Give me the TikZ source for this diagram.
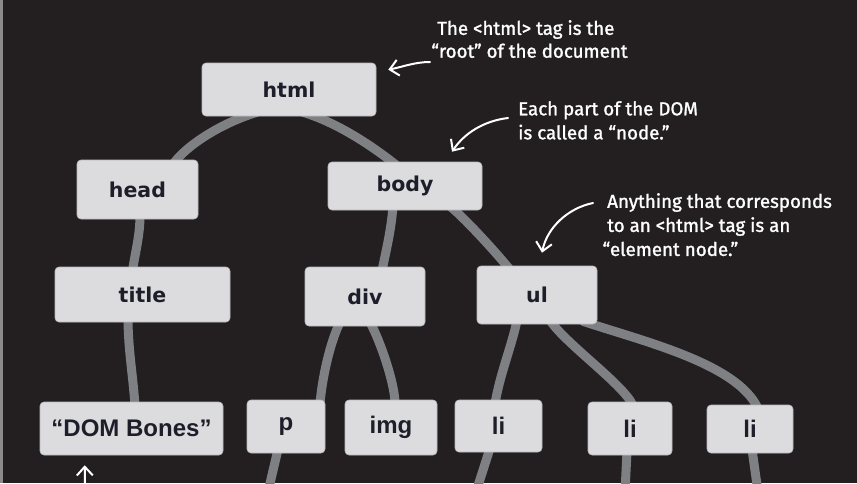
\documentclass[tikz,border=0pt]{standalone}
\usepackage{fontspec}
\newfontfamily\tagfont{DejaVu Sans}
\newfontfamily\leaffont{Liberation Sans}
\newfontfamily\handfont{Fira Sans}[FakeBold=1.4]
\usetikzlibrary{calc, backgrounds, arrows.meta}
\definecolor{board}{HTML}{231F20}
\definecolor{board_edge}{HTML}{8A8A8C}
\definecolor{box_fill}{HTML}{DCDCDF}
\definecolor{box_rim}{HTML}{B9B9BE}
\definecolor{branch_gray}{HTML}{7F8083}
\definecolor{tag_text}{HTML}{1E1E2A}

\begin{document}
\begin{tikzpicture}[
                        x=0.3mm, y=-0.3mm,
                        tag/.style={fill=box_fill, draw=box_rim, line width=0.5pt, rounded corners=1.2mm, inner sep=0pt, text=tag_text, font=\tagfont\bfseries\fontsize{17.5}{20}\selectfont},
                        leaf/.style={tag, font=\leaffont\bfseries\fontsize{20.5}{24}\selectfont},
                        branch/.style={draw=branch_gray, line width=2.7mm, line cap=round},
                        note/.style={text=white, align=left, inner sep=0pt, anchor=north west, font=\handfont\fontsize{16}{20.5}\selectfont},
                        note_arrow/.style={draw=white, line width=0.6mm, line cap=round, -{Straight Barb[length=2.6mm, width=4.8mm, line width=0.6mm]}},
                    ]
                        \useasboundingbox (0,0) rectangle (857,483);
                        \begin{pgfonlayer}{background}
                            \fill[board] (0,0) rectangle (857,483);
                            \draw[board_edge, line width=0.6mm] (1.5,0) -- (1.5,483);
                        \end{pgfonlayer}

                        %nodes
                        \node[tag, minimum width=52.2mm, minimum height=15.9mm] (html) at (289,89.5) {html};
                        \node[tag, minimum width=36.3mm, minimum height=17.7mm] (head) at (137.5,189.5) {head};
                        \node[tag, minimum width=46.2mm, minimum height=14.4mm] (body) at (405,186) {body};
                        \node[tag, minimum width=52.5mm, minimum height=16.5mm] (title) at (142.5,294.5) {title};
                        \node[tag, minimum width=36mm, minimum height=17.7mm] (div) at (365,296.5) {div};
                        \node[tag, minimum width=36mm, minimum height=17.4mm] (ul) at (537,295) {ul};
                        \node[leaf, minimum width=54.9mm, minimum height=15.9mm] (dom_bones) at (131.5,428.5) {“DOM Bones”};
                        \node[leaf, minimum width=23.4mm, minimum height=15.9mm] (p) at (286,426.5) {p};
                        \node[leaf, minimum width=27.6mm, minimum height=16.5mm] (img) at (391,427.5) {img};
                        \node[leaf, minimum width=26.1mm, minimum height=15.6mm] (li1) at (498.5,426) {li};
                        \node[leaf, minimum width=25.2mm, minimum height=15.9mm] (li2) at (630,428.5) {li};
                        \node[leaf, minimum width=25.8mm, minimum height=14.4mm] (li3) at (750,429) {li};

                        % branches running off the page
                        \coordinate (p_down) at (268,492);
                        \coordinate (li1_down) at (476,492);
                        \coordinate (li2_down) at (625,492);
                        \coordinate (li3_down) at (758,492);

                        % connections
                        \begin{pgfonlayer}{background}
                            \draw[branch] ($(html.south)+(-32,-4)$) .. controls +(-40,12) and +(10,-15) .. ($(head.north)+(36,4)$);
                            \draw[branch] ($(html.south)+(14,-4)$) .. controls +(40,12) and +(-15,-12) .. ($(body.north)+(-8,4)$);
                            \draw[branch] ($(head.south)+(2.5,-4)$) .. controls +(0,20) and +(3,-20) .. ($(title.north)+(-10,4)$);
                            \draw[branch] ($(body.south)+(-12,-4)$) .. controls +(-2,25) and +(4,-20) .. ($(div.north)+(17,4)$);
                            \draw[branch] ($(body.south)+(45,-4)$) .. controls +(15,12) and +(-12,-15) .. ($(ul.north)+(-27,4)$);
                            \draw[branch] ($(title.south)+(-14.5,-4)$) .. controls +(0,30) and +(-2,-30) .. ($(dom_bones.north)+(3.5,4)$);
                            \draw[branch] ($(div.south)+(-25,-4)$) .. controls +(-10,20) and +(2,-25) .. ($(p.north)+(34,4)$);
                            \draw[branch] ($(div.south)+(5,-4)$) .. controls +(10,18) and +(0,-20) .. ($(img.north)+(4,4)$);
                            \draw[branch] ($(ul.south)+(-20,-4)$) .. controls +(-5,25) and +(5,-30) .. ($(li1.north)+(-3.5,4)$);
                            \draw[branch] ($(ul.south)+(13,-4)$) .. controls +(15,23) and +(-8,-20) .. ($(li2.north)+(3,4)$);
                            \draw[branch] ($(ul.south)+(46,-3)$) .. controls +(60,20) and +(-20,-45) .. ($(li3.north)+(8,4)$);
                            \draw[branch] ($(p.south)+(-8,-4)$) -- (p_down);
                            \draw[branch] ($(li1.south)+(-8.5,-4)$) -- (li1_down);
                            \draw[branch] ($(li2.south)+(-3,-4)$) -- (li2_down);
                            \draw[branch] ($(li3.south)+(2,-4)$) -- (li3_down);
                        \end{pgfonlayer}

                        % labels
                        \node[note] (root_note) at (437,20) {The <html> tag is the\\[-1pt]\hspace*{-5pt}“root” of the document};
                        \node[note] (node_note) at (518,101) {Each part of the DOM\\is called a “node.”};
                        \node[note] (element_note) at (607,193) {Anything that corresponds\\to an <html> tag is an\\\hspace*{-4pt}“element node.”};
                        \coordinate (root_tail) at (430,62);
                        \coordinate (node_tail) at (508,118);
                        \coordinate (element_tail) at (593,203);
                        \coordinate (bones_tail) at (85,492);
                        \draw[note_arrow] (root_tail) .. controls +(-15,0) and +(15,-3) .. ($(html.north east)+(12,7)$);
                        \draw[note_arrow] (node_tail) .. controls +(-25,3) and +(12,-18) .. ($(body.north)+(47,-10)$);
                        \draw[note_arrow] (element_tail) .. controls +(-25,5) and +(5,-25) .. ($(ul.north)+(5,-13)$);
                        \draw[note_arrow] (bones_tail) -- ($(dom_bones.south west)+(45,10)$);
                    \end{tikzpicture}
\end{document}
